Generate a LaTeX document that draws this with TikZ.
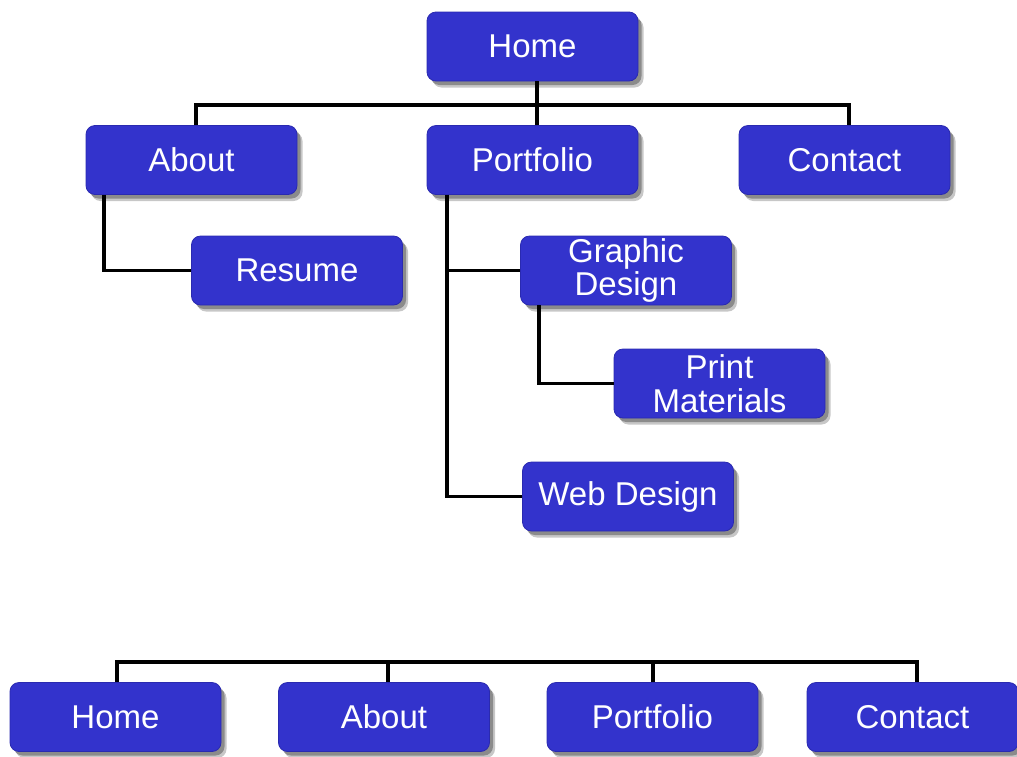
\documentclass[tikz,border=0pt]{standalone}
\usepackage{fontspec}
\setmainfont{Liberation Sans}
\definecolor{boxblue}{HTML}{3333CC}
\definecolor{boxedge}{HTML}{2A2AB0}
\begin{document}
\begin{tikzpicture}[x=1pt,y=-1pt,
  page/.style={fill=boxblue, draw=boxedge, line width=0.8pt, rounded corners=9pt,
    minimum width=211pt, minimum height=69pt, inner sep=0pt, align=center,
    text=white, font=\fontsize{33}{33.5}\selectfont,
    preaction={fill=black, opacity=0.22, transform canvas={shift={(5.5pt,-6.5pt)}}},
    preaction={fill=black, opacity=0.3, transform canvas={shift={(3.5pt,-4pt)}}}},
  conn/.style={draw=black, line width=3.2pt}]
\useasboundingbox (0,0) rectangle (1017,756);
% top tree
\node[page] (home) at (532.5,46.5) {Home};
\node[page] (about) at (191.5,160) {About};
\node[page] (portfolio) at (532.5,160) {Portfolio};
\node[page] (contact) at (844.5,160) {Contact};
\node[page] (resume) at (297,270.5) {Resume};
\node[page] (graphic) at (626,270.5) {Graphic\\Design};
\node[page] (print) at (719.5,383.5) {Print\\Materials};
\node[page] (web) at (628,496.5) {Web Design};
% bottom row
\node[page] (bhome) at (115.5,717) {Home};
\node[page] (babout) at (384,717) {About};
\node[page] (bportfolio) at (652.5,717) {Portfolio};
\node[page] (bcontact) at (912.5,717) {Contact};
% connectors
\coordinate (j1) at (537,105);
\draw[conn] (home.south -| j1) -- (j1);
\draw[conn] (about.north -| 196,0) |- (j1) -| (contact.north -| 849,0);
\draw[conn] (j1) -- (portfolio.north -| j1);
\draw[conn] (about.south -| 104,0) |- (resume.west);
\draw[conn] (portfolio.south -| 447,0) |- (web.west);
\draw[conn] (portfolio.south -| 447,0) |- (graphic.west);
\draw[conn] (graphic.south -| 539,0) |- (print.west);
\coordinate (b1) at (117,662);
\coordinate (b4) at (917,662);
\draw[conn] (bhome.north -| b1) -- (b1) -- (b4) -- (bcontact.north -| b4);
\draw[conn] (babout.north -| 388,0) -- (388,662);
\draw[conn] (bportfolio.north -| 653,0) -- (653,662);
\end{tikzpicture}
\end{document}
